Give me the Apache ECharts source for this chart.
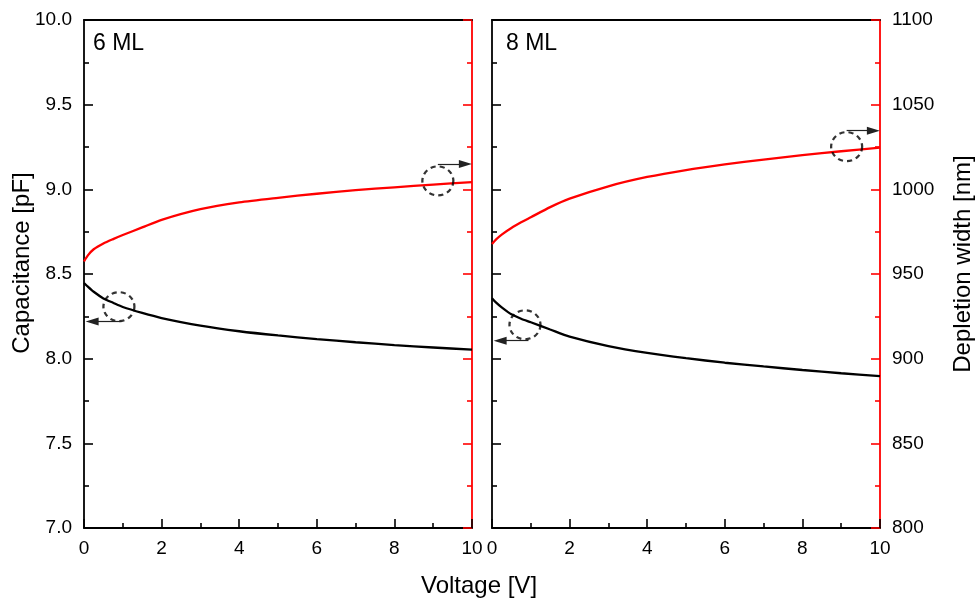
<!DOCTYPE html>
<html>
<head>
<meta charset="utf-8">
<script src="https://cdn.jsdelivr.net/npm/echarts@6/dist/echarts.min.js"></script>
<style>
  html, body { margin: 0; padding: 0; background: #fff; }
  #chart { width: 977px; height: 602px; }
</style>
</head>
<body>
<div id="chart"></div>
<script>
// Bias voltage [V]
const voltage = [0, 0.1, 0.25, 0.5, 0.75, 1, 1.5, 2, 3, 4, 5, 6, 7, 8, 9, 10];
// 6 ML sample
const cap6ML   = [8.447, 8.425, 8.395, 8.356, 8.330, 8.305, 8.270, 8.240, 8.195, 8.162, 8.137, 8.116, 8.097, 8.080, 8.066, 8.053];
const width6ML = [957.4, 961.0, 964.6, 968.0, 970.6, 973.0, 977.5, 982.0, 988.3, 992.3, 995.0, 997.4, 999.5, 1001.2, 1002.8, 1004.3];
// 8 ML sample
const cap8ML   = [8.357, 8.332, 8.303, 8.262, 8.236, 8.215, 8.172, 8.130, 8.074, 8.034, 8.003, 7.976, 7.954, 7.933, 7.914, 7.897];
const width8ML = [967.7, 970.3, 973.3, 977.2, 980.5, 983.5, 989.5, 994.5, 1001.8, 1007.3, 1011.4, 1014.7, 1017.6, 1020.2, 1022.5, 1024.6];

const panelLabels = ['6 ML', '8 ML'];

// Markers pointing each curve to its axis: circle centre [V, value], arrow [fromV, headV, value]
const capCircle6   = [0.90, 8.307];
const capArrow6    = [0.97, 0.21, 8.22];
const widthCircle6 = [9.12, 1005.0];
const widthArrow6  = [9.12, 9.83, 1014.9];
const capCircle8   = [0.85, 8.200];
const capArrow8    = [0.94, 0.21, 8.106];
const widthCircle8 = [9.14, 1025.2];
const widthArrow8  = [9.14, 9.83, 1034.6];

const FONT = '"Liberation Sans", Arial, sans-serif';
const BLACK = '#000';
const RED = '#ff0000';

const pairs = (xs, ys) => xs.map((x, i) => [x, ys[i]]);

function xAxisBottom(grid) {
  return {
    type: 'value', gridIndex: grid, position: 'bottom',
    min: 0, max: 10, interval: 2,
    axisLine: { show: true, onZero: false, lineStyle: { color: BLACK, width: 1.8 } },
    axisTick: { show: true, inside: true, length: 9, lineStyle: { color: BLACK, width: 1.6 } },
    minorTick: { show: true, splitNumber: 2, length: 5, lineStyle: { color: BLACK, width: 1.6 } },
    splitLine: { show: false },
    axisLabel: { show: true, margin: 11, fontSize: 19, color: BLACK, fontFamily: FONT }
  };
}
function xAxisTop(grid) {
  return {
    type: 'value', gridIndex: grid, position: 'top',
    min: 0, max: 10, interval: 2,
    axisLine: { show: true, onZero: false, lineStyle: { color: BLACK, width: 1.8 } },
    axisTick: { show: false }, axisLabel: { show: false }, splitLine: { show: false }
  };
}
function yAxis(grid, pos, kind, labels) {
  const isCap = kind === 'cap';
  const color = isCap ? BLACK : RED;
  return {
    type: 'value', gridIndex: grid, position: pos,
    min: isCap ? 7 : 800, max: isCap ? 10 : 1100, interval: isCap ? 0.5 : 50,
    axisLine: { show: true, onZero: false, lineStyle: { color: color, width: 1.8 } },
    axisTick: { show: true, inside: true, length: 9, lineStyle: { color: color, width: 1.6 } },
    minorTick: { show: true, splitNumber: 2, length: 5, lineStyle: { color: color, width: 1.6 } },
    splitLine: { show: false },
    axisLabel: {
      show: labels, margin: 12, fontSize: 19, color: BLACK, fontFamily: FONT,
      formatter: v => isCap ? v.toFixed(1) : String(v)
    }
  };
}

function curve(name, xi, yi, xs, ys, color) {
  return {
    name: name, type: 'line', xAxisIndex: xi, yAxisIndex: yi,
    data: pairs(xs, ys), showSymbol: false, symbol: 'none',
    smooth: 0.25,
    lineStyle: { color: color, width: 2.3 }, z: 3
  };
}

function marker(xi, yi, circle, arrow) {
  return {
    type: 'scatter', xAxisIndex: xi, yAxisIndex: yi,
    data: [circle], symbol: 'circle', symbolSize: [31, 29],
    itemStyle: { color: 'rgba(0,0,0,0)', borderColor: BLACK, borderWidth: 2.2, borderType: [5, 4] },
    silent: true, z: 4,
    markLine: {
      silent: true, animation: false,
      symbol: ['none', 'triangle'], symbolSize: [8, 13],
      label: { show: false },
      lineStyle: { color: '#222', width: 1.2, type: 'solid' },
      data: [[{ coord: [arrow[0], arrow[2]] }, { coord: [arrow[1], arrow[2]] }]]
    }
  };
}

const chart = echarts.init(document.getElementById('chart'), null, { renderer: 'canvas' });
chart.setOption({
  animation: false,
  backgroundColor: '#fff',
  textStyle: { fontFamily: FONT },
  grid: [
    { left: 84, right: 505, top: 20, bottom: 74 },
    { left: 492, right: 97, top: 20, bottom: 74 }
  ],
  xAxis: [xAxisBottom(0), xAxisBottom(1), xAxisTop(0), xAxisTop(1)],
  yAxis: [
    yAxis(0, 'left', 'cap', true),
    yAxis(0, 'right', 'width', false),
    yAxis(1, 'left', 'cap', false),
    yAxis(1, 'right', 'width', true)
  ],
  series: [
    curve('C 6 ML', 0, 0, voltage, cap6ML, BLACK),
    curve('W 6 ML', 0, 1, voltage, width6ML, RED),
    curve('C 8 ML', 1, 2, voltage, cap8ML, BLACK),
    curve('W 8 ML', 1, 3, voltage, width8ML, RED),
    marker(0, 0, capCircle6, capArrow6),
    marker(0, 1, widthCircle6, widthArrow6),
    marker(1, 2, capCircle8, capArrow8),
    marker(1, 3, widthCircle8, widthArrow8)
  ],
  graphic: [
    { type: 'text', left: 93, top: 32, style: { text: panelLabels[0], fontSize: 23, fill: BLACK, fontFamily: FONT } },
    { type: 'text', left: 506, top: 32, style: { text: panelLabels[1], fontSize: 23, fill: BLACK, fontFamily: FONT } },
    { type: 'text', x: 22.5, y: 263, rotation: Math.PI / 2,
      style: { text: 'Capacitance [pF]', fontSize: 24, fill: BLACK, fontFamily: FONT, align: 'center', verticalAlign: 'middle' } },
    { type: 'text', x: 963, y: 264, rotation: Math.PI / 2,
      style: { text: 'Depletion width [nm]', fontSize: 24, fill: BLACK, fontFamily: FONT, align: 'center', verticalAlign: 'middle' } },
    { type: 'text', x: 479, y: 586,
      style: { text: 'Voltage [V]', fontSize: 24, fill: BLACK, fontFamily: FONT, align: 'center', verticalAlign: 'middle' } }
  ]
});
</script>
</body>
</html>
